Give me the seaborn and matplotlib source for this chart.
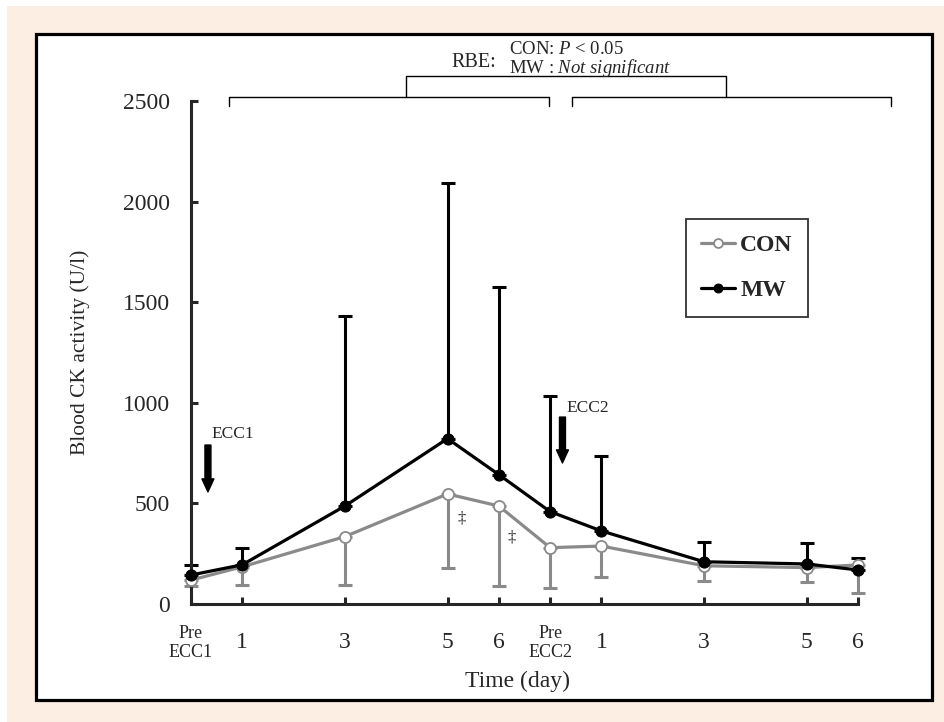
import numpy as np
import pandas as pd
import matplotlib
matplotlib.use('Agg')
import matplotlib.pyplot as plt
import seaborn as sns
from matplotlib.patches import Rectangle

sns.set_style('ticks')
plt.rcParams['font.family'] = ['Liberation Serif', 'DejaVu Serif']
plt.rcParams['mathtext.fontset'] = 'custom'
plt.rcParams['mathtext.rm'] = 'Liberation Serif'
plt.rcParams['mathtext.it'] = 'Liberation Serif:italic'

# time points (days after each bout), plotted on a day axis
tick_labels = ['Pre\nECC1', '1', '3', '5', '6', 'Pre\nECC2', '1', '3', '5', '6']
day_pos = [0, 1, 3, 5, 6, 7, 8, 10, 12, 13]

con_mean = [119, 185, 335, 547, 487, 280, 288, 190, 181, 194]
con_sd = [28, 91, 241, 370, 398, 202, 152, 76, 72, 141]
mw_mean = [144, 195, 487, 822, 643, 459, 363, 210, 199, 169]
mw_sd = [50, 83, 944, 1270, 932, 575, 374, 100, 102, 61]

gray = '#8a8a8a'
pink = '#fdeee4'

fig = plt.figure(figsize=(9.44, 7.22), dpi=100)
fig.patches.append(Rectangle((7/944, 0), 1 - 7/944, 716/722, transform=fig.transFigure,
                             facecolor=pink, edgecolor='none', zorder=-10))
fig.patches.append(Rectangle((36/944, 22/722), 896/944, 666/722, transform=fig.transFigure,
                             facecolor='white', edgecolor='black', linewidth=2.3, zorder=-9))

ax = fig.add_axes([191/944, 118/722, 667/944, 503/722])
ax.set_facecolor('none')

df = pd.DataFrame({'day': day_pos * 2,
                   'ck': con_mean + mw_mean,
                   'group': ['CON'] * len(con_mean) + ['MW'] * len(mw_mean)})

# error bars: CON downward only, MW upward only
ax.errorbar(day_pos, con_mean, yerr=[con_sd, np.zeros(len(con_sd))], fmt='none',
            ecolor=gray, elinewidth=2.2, capsize=5, capthick=2.2, clip_on=False, zorder=2)
ax.errorbar(day_pos, mw_mean, yerr=[np.zeros(len(mw_sd)), mw_sd], fmt='none',
            ecolor='black', elinewidth=2.2, capsize=5, capthick=2.2, clip_on=False, zorder=2)

sns.lineplot(data=df[df.group == 'CON'], x='day', y='ck', color=gray, marker='o',
             markersize=8, markerfacecolor='white', markeredgecolor=gray, markeredgewidth=1.3,
             linewidth=2.3, label='CON', ax=ax, zorder=3)
sns.lineplot(data=df[df.group == 'MW'], x='day', y='ck', color='black', marker='o',
             markersize=8, markerfacecolor='black', markeredgecolor='black',
             linewidth=2.3, label='MW', ax=ax, zorder=4)
for ln in ax.lines:
    ln.set_clip_on(False)

ax.set_xlim(0, 13)
ax.set_ylim(0, 2500)
sns.despine(ax=ax)
ax.spines['left'].set_linewidth(2.2)
ax.spines['bottom'].set_linewidth(2.2)

ax.set_yticks([0, 500, 1000, 1500, 2000, 2500])
ax.set_xticks(day_pos)
ax.set_xticklabels(tick_labels)
ax.tick_params(axis='both', direction='in', length=5, width=2.2, labelsize=17)
ax.tick_params(axis='y', pad=15)
ax.tick_params(axis='x', pad=28)
for lab in ax.get_xticklabels():
    lab.set_va('center')
    if lab.get_text().startswith('Pre'):
        lab.set_fontsize(13)
        lab.set_linespacing(1.15)

ax.set_xlabel('Time (day)', fontsize=17)
ax.set_ylabel('Blood CK activity (U/l)', fontsize=15.5)
ax.xaxis.set_label_coords(0.49, -0.133)
ax.yaxis.set_label_coords(-0.151, 0.5)

leg = ax.legend(loc='upper left', bbox_to_anchor=(0.742, 0.765), borderaxespad=0,
                frameon=True, fancybox=False, prop={'size': 17, 'weight': 'bold'},
                handlelength=1.45, handletextpad=0.2, borderpad=0.65, labelspacing=1.0,
                markerscale=0.8)
leg.get_frame().set_edgecolor('black')
leg.get_frame().set_linewidth(1.3)

# exercise bouts
arrow = dict(arrowstyle='simple,head_width=0.86,head_length=0.94,tail_width=0.43',
             color='black', mutation_scale=10, shrinkA=0, shrinkB=0)
ax.annotate('', xy=(0.33, 557), xytext=(0.33, 790), arrowprops=arrow)
ax.text(0.39, 845, 'ECC1', fontsize=12.5, va='center', ha='left')
ax.annotate('', xy=(7.24, 701), xytext=(7.24, 929), arrowprops=arrow)
ax.text(7.32, 974, 'ECC2', fontsize=12.5, va='center', ha='left')

ax.text(5.28, 427, '\u2021', fontsize=12, ha='center', va='center')
ax.text(6.25, 333, '\u2021', fontsize=12, ha='center', va='center')

# repeated bout effect brackets
bk = dict(color='black', linewidth=1.0, clip_on=False)
ax.plot([0.738, 0.738, 6.97, 6.97], [2475, 2520, 2520, 2475], **bk)
ax.plot([7.42, 7.42, 13.65, 13.65], [2475, 2520, 2520, 2475], **bk)
ax.plot([4.19, 4.19, 10.43, 10.43], [2520, 2624, 2624, 2520], **bk)
ax.text(5.07, 2690, 'RBE:', fontsize=14.5, ha='left', va='center')
ax.text(6.19, 2703, 'CON: $\\mathit{P}$ < 0.05\nMW : $\\mathit{Not\\ significant}$',
        fontsize=13.5, ha='left', va='center', linespacing=0.95)

fig.savefig('out.png', dpi=100)
